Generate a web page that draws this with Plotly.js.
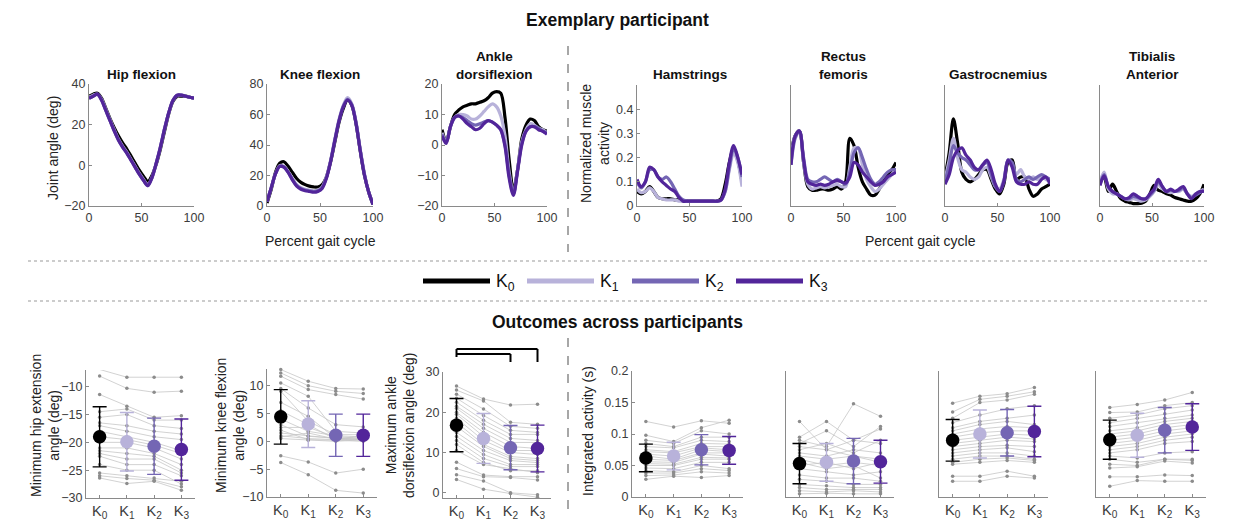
<!DOCTYPE html>
<html><head><meta charset="utf-8">
<script src="https://cdn.plot.ly/plotly-3.0.1.min.js"></script>
<style>html,body{margin:0;padding:0;background:#fff}#chart{width:1233px;height:521px}</style>
</head><body><div id="chart"></div>
<script>
const W = 1233, H = 521;
const conditions = ['K<sub>0</sub>','K<sub>1</sub>','K<sub>2</sub>','K<sub>3</sub>'];
const condColors = ['#000000','#b8b2da','#7466b4','#52259a'];

// percent gait cycle
const gait = [0,4,8,12,16,20,24,28,32,36,40,44,48,52,56,60,64,68,72,76,80,84,88,92,96,100];

// joint angles (deg)
const hipK0 = [34,35,35.5,33,28,23,18.5,14.5,11,8,4.5,1,-2.5,-5.5,-8,-5,0.5,8,17,25.5,31.5,34,34,34,33.5,33];
const hipK1 = [33.5,34.5,35,32.5,27.5,22.5,17.5,13,9.5,6.5,3,-0.5,-4,-7,-9.5,-6,1,9,18,26,32,34.5,34.5,34,33.5,33];
const hipK2 = [33,34,35,32,27,22,17,12.5,9,6,2.5,-1,-4.5,-7.5,-10,-6,1,9,18,26,32,34.5,34.5,34,33.5,33];
const hipK3 = [33,34,35,32,27,22,17,12.5,9,6,2.5,-1,-4.5,-7.5,-10,-6,1,9,18,26,32,34.5,34.5,34,33.5,33];
const kneeK0 = [2,11,22,28,29,26,22,18,15.5,14,13,12.5,12.5,14,19,29,42,55,64,69.5,66,54,36,20,9,1];
const kneeK1 = [3,12,21,26.5,26,22.5,18,14,12,11,10.5,10,10.5,12.5,19,30,44,57,66,71,67,55,37,21,9,1.5];
const kneeK2 = [3,12,21,26,25.5,22,17.5,13.5,11.5,10.5,10,9.5,10,12,18.5,29.5,43,56,65.5,70,66.5,54.5,36.5,20.5,9,1];
const kneeK3 = [3,12,21,26,25.5,22,17,13,11,10,9.5,9,9.5,11.5,18,29,43,56,65,69.5,66,54,36,20,9,1];
const ankleK0 = [5,1,6,10,11.5,12.5,13,13.5,13.5,14,14.5,15.5,17,17.5,17,9,-5,-15,-8,2,6.5,8.5,8,6,5,4.5];
const ankleK1 = [4,1,6,9,10,10,9.5,8.5,8.5,9.5,11,12.5,13.5,12.5,9.5,3,-9,-16,-8,1,5,7,6.5,5.5,5,4];
const ankleK2 = [3.5,1,6,9,9.5,9,8,7,6.5,7,7.5,8,7.5,6.5,5,0,-10,-16,-8,0.5,4.5,6,6,5.5,4.5,4];
const ankleK3 = [3,0.5,6,9,9.5,8.5,7,6,5,5.5,7,8,7.5,6.5,5,-0.5,-11,-16.5,-8.5,0,4.5,6,6,5,4.5,3.5];

// normalized muscle activity
const hamK0 = [0.06,0.05,0.06,0.08,0.06,0.035,0.03,0.03,0.03,0.025,0.025,0.02,0.02,0.02,0.02,0.02,0.02,0.02,0.02,0.02,0.03,0.09,0.18,0.24,0.19,0.10];
const hamK1 = [0.07,0.055,0.06,0.075,0.06,0.035,0.03,0.025,0.025,0.025,0.02,0.02,0.02,0.02,0.02,0.02,0.02,0.02,0.02,0.02,0.025,0.06,0.15,0.22,0.18,0.08];
const hamK2 = [0.10,0.075,0.10,0.15,0.15,0.12,0.11,0.12,0.10,0.07,0.04,0.025,0.02,0.02,0.02,0.02,0.02,0.02,0.02,0.02,0.025,0.06,0.16,0.24,0.20,0.12];
const hamK3 = [0.11,0.08,0.10,0.16,0.15,0.12,0.10,0.085,0.07,0.06,0.035,0.02,0.02,0.02,0.02,0.02,0.02,0.02,0.02,0.02,0.025,0.07,0.18,0.25,0.20,0.13];
const rfK0 = [0.22,0.29,0.31,0.18,0.08,0.065,0.065,0.07,0.07,0.065,0.07,0.08,0.07,0.10,0.28,0.25,0.16,0.10,0.07,0.045,0.045,0.07,0.10,0.13,0.15,0.18];
const rfK1 = [0.20,0.29,0.31,0.18,0.09,0.07,0.075,0.08,0.075,0.08,0.085,0.09,0.08,0.08,0.16,0.24,0.24,0.17,0.11,0.08,0.06,0.07,0.09,0.11,0.13,0.15];
const rfK2 = [0.17,0.28,0.31,0.20,0.11,0.10,0.10,0.11,0.12,0.11,0.10,0.11,0.10,0.09,0.14,0.22,0.24,0.20,0.15,0.11,0.09,0.10,0.12,0.14,0.15,0.15];
const rfK3 = [0.17,0.29,0.31,0.19,0.10,0.09,0.085,0.09,0.085,0.09,0.10,0.105,0.10,0.095,0.12,0.18,0.17,0.14,0.12,0.10,0.085,0.09,0.10,0.12,0.13,0.14];
const gasK0 = [0.12,0.22,0.36,0.26,0.14,0.11,0.10,0.11,0.13,0.15,0.15,0.11,0.07,0.05,0.09,0.18,0.19,0.11,0.12,0.12,0.07,0.04,0.05,0.07,0.08,0.09];
const gasK1 = [0.11,0.19,0.28,0.20,0.15,0.14,0.12,0.11,0.12,0.15,0.16,0.12,0.08,0.07,0.11,0.19,0.17,0.13,0.15,0.12,0.11,0.12,0.11,0.12,0.11,0.10];
const gasK2 = [0.10,0.17,0.25,0.22,0.20,0.19,0.17,0.15,0.15,0.17,0.18,0.13,0.08,0.06,0.10,0.19,0.18,0.11,0.10,0.11,0.12,0.11,0.12,0.13,0.12,0.11];
const gasK3 = [0.09,0.13,0.20,0.23,0.24,0.21,0.19,0.16,0.15,0.17,0.19,0.15,0.09,0.06,0.10,0.19,0.16,0.10,0.09,0.09,0.10,0.09,0.09,0.11,0.12,0.09];
const taK0 = [0.10,0.12,0.06,0.09,0.06,0.03,0.02,0.015,0.01,0.01,0.012,0.02,0.05,0.085,0.065,0.06,0.05,0.045,0.035,0.03,0.025,0.02,0.02,0.03,0.05,0.09];
const taK1 = [0.10,0.14,0.07,0.05,0.05,0.04,0.03,0.025,0.03,0.025,0.02,0.025,0.04,0.06,0.09,0.07,0.06,0.055,0.06,0.06,0.07,0.05,0.04,0.05,0.06,0.07];
const taK2 = [0.09,0.13,0.08,0.06,0.05,0.04,0.03,0.03,0.04,0.035,0.03,0.03,0.045,0.065,0.10,0.08,0.06,0.065,0.06,0.065,0.075,0.05,0.035,0.045,0.055,0.065];
const taK3 = [0.085,0.125,0.08,0.06,0.05,0.04,0.03,0.035,0.05,0.04,0.03,0.03,0.05,0.07,0.11,0.08,0.06,0.07,0.06,0.07,0.08,0.05,0.03,0.05,0.06,0.06];

// outcomes across participants: one row per participant [K0,K1,K2,K3]
const hipExtRows = [
 [-6.9,-8.3,-8.3,-8.3],[-8.1,-10.3,-11.0,-10.8],[-11.4,-13.5,-15.5,-15.2],[-14.5,-14.0,-16.0,-16.0],
 [-15.5,-15.0,-17.0,-17.5],[-16.5,-17.0,-18.0,-18.5],[-17.0,-18.0,-19.0,-19.5],[-18.0,-19.0,-20.0,-21.5],
 [-19.0,-19.5,-20.5,-22.0],[-20.0,-20.0,-21.0,-23.0],[-21.0,-21.0,-22.0,-24.0],[-21.5,-22.0,-22.5,-25.0],
 [-22.0,-23.0,-23.0,-25.5],[-22.5,-24.0,-24.0,-26.0],[-24.0,-25.0,-25.0,-27.5],[-25.5,-26.0,-26.4,-27.0],
 [-26.0,-26.5,-26.8,-28.0],[-26.4,-27.4,-27.0,-28.6]];
const hipExtMean = [-19.0,-19.9,-20.7,-21.3];
const hipExtSD = [5.4,5.25,5.05,5.5];

const kneeFlexRows = [
 [12.9,10.8,9.5,9.4],[12.3,10.0,9.0,8.6],[11.7,9.3,8.4,7.6],[10.5,8.1,1.8,1.5],[9.5,6.0,3.0,2.6],
 [9.0,3.6,1.2,1.2],[7.0,4.5,0.5,0.3],[5.5,3.0,0.3,0.5],[4.0,1.8,1.0,0.8],[3.0,0.9,0.6,0.4],
 [2.5,2.5,0.8,0.6],[2.0,0.3,0.2,0.0],[1.5,1.0,0.5,0.3],[1.0,0.5,0.3,0.2],[0.8,1.5,0.4,1.0],
 [0.5,0.2,0.0,0.3],[-2.6,-3.7,-5.7,-5.0],[-3.8,-6.0,-8.8,-9.3]];
const kneeFlexMean = [4.4,3.1,1.1,1.1];
const kneeFlexSD = [4.9,4.2,3.8,3.8];

const ankleDfRows = [
 [26.5,23.3,21.8,22.0],[25.5,22.8,17.5,17.0],[24.5,20.8,16.5,16.0],[23.5,19.2,15.5,15.0],
 [22.5,18.0,14.5,14.5],[21.5,17.0,13.5,13.0],[21.0,16.0,12.5,12.5],[20.0,15.0,11.5,11.0],
 [19.5,14.0,10.5,10.5],[18.5,13.0,10.0,9.5],[17.5,12.0,9.0,8.5],[16.5,11.5,8.5,8.0],
 [15.0,10.5,8.0,7.5],[14.0,9.5,7.0,7.0],[13.0,8.5,6.5,6.5],[12.0,7.5,5.5,5.5],
 [10.5,7.0,6.0,5.0],[7.6,4.4,4.0,4.0],[6.0,4.0,3.8,3.2],[4.5,2.9,0.0,-0.5],[3.3,0.9,-0.2,-1.1]];
const ankleDfMean = [16.8,13.5,11.2,11.0];
const ankleDfSD = [6.6,6.2,5.5,5.8];

const hamIntRows = [
 [0.120,0.111,0.121,0.117],[0.098,0.088,0.110,0.122],[0.090,0.085,0.105,0.100],[0.085,0.080,0.095,0.095],
 [0.080,0.078,0.090,0.088],[0.075,0.072,0.085,0.084],[0.072,0.070,0.080,0.080],[0.068,0.065,0.078,0.075],
 [0.065,0.060,0.075,0.072],[0.060,0.058,0.070,0.070],[0.056,0.055,0.068,0.065],[0.053,0.052,0.063,0.062],
 [0.050,0.050,0.060,0.060],[0.046,0.045,0.055,0.055],[0.042,0.040,0.050,0.045],[0.038,0.038,0.045,0.042],
 [0.034,0.035,0.040,0.038],[0.028,0.033,0.031,0.034]];
const hamIntMean = [0.062,0.065,0.075,0.074];
const hamIntSD = [0.022,0.022,0.024,0.022];

const rfIntRows = [
 [0.120,0.075,0.065,0.055],[0.095,0.120,0.090,0.085],[0.090,0.080,0.148,0.128],[0.085,0.105,0.080,0.112],
 [0.080,0.075,0.090,0.108],[0.075,0.085,0.070,0.090],[0.070,0.065,0.075,0.070],[0.065,0.060,0.065,0.060],
 [0.060,0.050,0.055,0.050],[0.055,0.045,0.050,0.030],[0.050,0.055,0.045,0.055],[0.045,0.040,0.035,0.040],
 [0.035,0.030,0.030,0.025],[0.028,0.025,0.020,0.020],[0.020,0.018,0.015,0.015],[0.015,0.012,0.012,0.012],
 [0.010,0.008,0.010,0.008],[0.005,0.006,0.005,0.005]];
const rfIntMean = [0.053,0.055,0.057,0.056];
const rfIntSD = [0.032,0.030,0.036,0.034];

const gasIntRows = [
 [0.149,0.160,0.164,0.174],[0.135,0.155,0.160,0.167],[0.125,0.150,0.154,0.163],[0.118,0.130,0.140,0.145],
 [0.110,0.120,0.125,0.130],[0.105,0.115,0.120,0.115],[0.100,0.108,0.112,0.110],[0.095,0.102,0.105,0.105],
 [0.090,0.095,0.100,0.098],[0.085,0.090,0.095,0.092],[0.080,0.085,0.090,0.088],[0.075,0.080,0.082,0.080],
 [0.070,0.075,0.078,0.072],[0.065,0.070,0.070,0.065],[0.060,0.065,0.065,0.060],[0.055,0.060,0.062,0.058],
 [0.052,0.055,0.058,0.055],[0.033,0.033,0.041,0.033],[0.025,0.025,0.033,0.030]];
const gasIntMean = [0.090,0.100,0.102,0.104];
const gasIntSD = [0.033,0.038,0.037,0.040];

const taIntRows = [
 [0.142,0.147,0.154,0.166],[0.134,0.135,0.145,0.150],[0.125,0.130,0.140,0.145],[0.118,0.125,0.132,0.138],
 [0.112,0.118,0.125,0.130],[0.105,0.110,0.120,0.125],[0.100,0.105,0.115,0.120],[0.095,0.100,0.110,0.115],
 [0.090,0.095,0.105,0.110],[0.085,0.090,0.100,0.105],[0.080,0.085,0.095,0.100],[0.075,0.080,0.090,0.095],
 [0.070,0.075,0.085,0.088],[0.065,0.062,0.070,0.072],[0.060,0.055,0.060,0.060],[0.052,0.050,0.060,0.058],
 [0.046,0.048,0.057,0.054],[0.032,0.032,0.035,0.034],[0.017,0.026,0.025,0.025]];
const taIntMean = [0.091,0.098,0.106,0.111];
const taIntSD = [0.031,0.035,0.036,0.037];

// ---------- layout helpers ----------
const FONT = 'Liberation Sans, Arial, sans-serif';
const px = v => v / W;
const py = v => 1 - v / H;
const TICKCOL = '#3c3c3c';
const AXCOL = '#8a8a8a';

const traces = [];
const layout = {
  width: W, height: H, margin: {l:0, r:0, t:0, b:0}, autosize: false,
  paper_bgcolor: '#fff', plot_bgcolor: 'rgba(0,0,0,0)', showlegend: false,
  font: {family: FONT, color: '#222'},
  annotations: [], shapes: []
};

function axisBase(domain, range) {
  return {domain, range, showline: true, linecolor: AXCOL, linewidth: 1, showgrid: false, zeroline: false,
    ticks: 'inside', ticklen: 3, tickcolor: AXCOL, tickfont: {family: FONT, size: 12.5, color: TICKCOL}, fixedrange: true};
}

const topPanels = [
  {title: '<b>Hip flexion</b>', s: [hipK0,hipK1,hipK2,hipK3], xd: [89,194], yd: [84,206], yr: [-20,40], yt: [-20,0,20,40], lab: true},
  {title: '<b>Knee flexion</b>', s: [kneeK0,kneeK1,kneeK2,kneeK3], xd: [267,373], yd: [84,206], yr: [0,80], yt: [0,20,40,60,80], lab: true},
  {title: '<b>Ankle<br>dorsiflexion</b>', s: [ankleK0,ankleK1,ankleK2,ankleK3], xd: [442,547], yd: [84,206], yr: [-20,20], yt: [-20,-10,0,10,20], lab: true},
  {title: '<b>Hamstrings</b>', s: [hamK0,hamK1,hamK2,hamK3], xd: [637,742], yd: [85,206], yr: [0,0.5], yt: [0,0.1,0.2,0.3,0.4], lab: true},
  {title: '<b>Rectus<br>femoris</b>', s: [rfK0,rfK1,rfK2,rfK3], xd: [791,896], yd: [85,206], yr: [0,0.5], yt: [], lab: false},
  {title: '<b>Gastrocnemius</b>', s: [gasK0,gasK1,gasK2,gasK3], xd: [945,1050], yd: [85,206], yr: [0,0.5], yt: [], lab: false},
  {title: '<b>Tibialis<br>Anterior</b>', s: [taK0,taK1,taK2,taK3], xd: [1100,1204], yd: [85,206], yr: [0,0.5], yt: [], lab: false}
];

let n = 0;
topPanels.forEach(p => {
  n++;
  const xn = 'x' + (n === 1 ? '' : n), yn = 'y' + (n === 1 ? '' : n);
  const xa = axisBase([px(p.xd[0]), px(p.xd[1])], [0, 100]);
  xa.tickvals = [0, 50, 100]; xa.anchor = yn;
  const ya = axisBase([py(p.yd[1]), py(p.yd[0])], p.yr);
  ya.anchor = xn;
  if (p.lab) { ya.tickvals = p.yt; } else { ya.showticklabels = false; ya.ticks = ''; }
  layout['xaxis' + (n === 1 ? '' : n)] = xa;
  layout['yaxis' + (n === 1 ? '' : n)] = ya;
  p.s.forEach((vals, k) => {
    traces.push({x: gait, y: vals, xaxis: xn, yaxis: yn, type: 'scatter', mode: 'lines',
      line: {color: condColors[k], width: 3.2, shape: 'spline', smoothing: 0.9}, hoverinfo: 'skip', cliponaxis: true});
  });
  layout.annotations.push({text: p.title, x: px((p.xd[0] + p.xd[1]) / 2), y: py(84), xref: 'paper', yref: 'paper',
    xanchor: 'center', yanchor: 'bottom', showarrow: false, font: {family: FONT, size: 13.5, color: '#111'}});
});

const botPanels = [
  {rows: hipExtRows, m: hipExtMean, sd: hipExtSD, xd: [86,195], yd: [370,498], yr: [-30,-7], yt: [-30,-25,-20,-15,-10], lab: true},
  {rows: kneeFlexRows, m: kneeFlexMean, sd: kneeFlexSD, xd: [267,377], yd: [369,497], yr: [-10,13], yt: [-10,-5,0,5,10], lab: true},
  {rows: ankleDfRows, m: ankleDfMean, sd: ankleDfSD, xd: [443,551], yd: [372,498], yr: [-1.3,30], yt: [0,10,20,30], lab: true},
  {rows: hamIntRows, m: hamIntMean, sd: hamIntSD, xd: [632,743], yd: [371,497], yr: [0,0.2], yt: [0,0.05,0.1,0.15,0.2], lab: true},
  {rows: rfIntRows, m: rfIntMean, sd: rfIntSD, xd: [786,894], yd: [371,497], yr: [0,0.2], yt: [], lab: false},
  {rows: gasIntRows, m: gasIntMean, sd: gasIntSD, xd: [939,1048], yd: [371,497], yr: [0,0.2], yt: [], lab: false},
  {rows: taIntRows, m: taIntMean, sd: taIntSD, xd: [1096,1206], yd: [371,497], yr: [0,0.2], yt: [], lab: false}
];
const catIdx = [0,1,2,3];

botPanels.forEach(p => {
  n++;
  const xn = 'x' + n, yn = 'y' + n;
  const xa = axisBase([px(p.xd[0]), px(p.xd[1])], [-0.5, 3.5]);
  xa.tickvals = catIdx; xa.ticktext = conditions; xa.anchor = yn;
  xa.tickfont = {family: FONT, size: 14.5, color: TICKCOL};
  const ya = axisBase([py(p.yd[1]), py(p.yd[0])], p.yr);
  ya.anchor = xn;
  if (p.lab) { ya.tickvals = p.yt; } else { ya.showticklabels = false; ya.ticks = ''; }
  layout['xaxis' + n] = xa; layout['yaxis' + n] = ya;
  const lx = [], ly = [];
  p.rows.forEach(r => { r.forEach((v, k) => { lx.push(catIdx[k]); ly.push(v); }); lx.push(null); ly.push(null); });
  traces.push({x: lx, y: ly, xaxis: xn, yaxis: yn, type: 'scatter', mode: 'lines+markers',
    line: {color: '#c6c6c6', width: 0.8}, marker: {size: 3.5, color: '#8c8c8c'}, hoverinfo: 'skip', cliponaxis: false});
  p.m.forEach((v, k) => {
    traces.push({x: [catIdx[k]], y: [v], xaxis: xn, yaxis: yn, type: 'scatter', mode: 'markers',
      marker: {size: 13.5, color: condColors[k]}, hoverinfo: 'skip', cliponaxis: false,
      error_y: {type: 'data', array: [p.sd[k]], visible: true, color: condColors[k], thickness: 1.4, width: 7}});
  });
});

// axis titles
const ann = (text, x, y, opt) => layout.annotations.push(Object.assign({text, x: px(x), y: py(y), xref: 'paper', yref: 'paper',
  xanchor: 'center', yanchor: 'middle', showarrow: false, font: {family: FONT, size: 14, color: '#222'}}, opt || {}));
ann('Joint angle (deg)', 53, 148, {textangle: -90});
ann('Percent gait cycle', 320, 241);
ann('Normalized muscle<br>activity', 595, 144, {textangle: -90});
ann('Percent gait cycle', 920, 241);
ann('Minimum hip extension<br>angle (deg)', 45, 425, {textangle: -90});
ann('Minimum knee flexion<br>angle (deg)', 230, 426, {textangle: -90});
ann('Maximum ankle<br>dorsiflexion angle (deg)', 400, 425, {textangle: -90});
ann('Integrated activity (s)', 588, 431, {textangle: -90});
ann('<b>Exemplary participant</b>', 617, 20, {font: {family: FONT, size: 17.5, color: '#111'}});
ann('<b>Outcomes across participants</b>', 617, 322, {font: {family: FONT, size: 17.5, color: '#111'}});

// separators
const sh = layout.shapes;
sh.push({type: 'line', xref: 'paper', yref: 'paper', x0: px(28), x1: px(1207), y0: py(261), y1: py(261), line: {color: '#9a9a9a', width: 1.2, dash: 'dot'}});
sh.push({type: 'line', xref: 'paper', yref: 'paper', x0: px(28), x1: px(1207), y0: py(301), y1: py(301), line: {color: '#9a9a9a', width: 1.2, dash: 'dot'}});
sh.push({type: 'line', xref: 'paper', yref: 'paper', x0: px(568), x1: px(568), y0: py(46), y1: py(252), line: {color: '#8a8a8a', width: 1.5, dash: 'dash'}});
sh.push({type: 'line', xref: 'paper', yref: 'paper', x0: px(568), x1: px(568), y0: py(338), y1: py(516), line: {color: '#8a8a8a', width: 1.5, dash: 'dash'}});

// legend
const legX = [[423,490],[527,594],[632,699],[736,803]];
legX.forEach((s, k) => {
  sh.push({type: 'line', xref: 'paper', yref: 'paper', x0: px(s[0]), x1: px(s[1]), y0: py(281), y1: py(281), line: {color: condColors[k], width: 5}});
  layout.annotations.push({text: conditions[k], x: px(s[1] + 4), y: py(282), xref: 'paper', yref: 'paper', xanchor: 'left', yanchor: 'middle',
    showarrow: false, font: {family: FONT, size: 17.5, color: '#111'}});
});

// significance bracket on ankle outcome panel (axis 10)
const bx = 'x10';
const bl = (x0, y0, x1, y1) => sh.push({type: 'line', xref: bx, yref: 'paper', x0, x1, y0: py(y0), y1: py(y1), line: {color: '#000', width: 2}});
bl(0, 349, 0, 357);
bl(0, 349, 3, 349);
bl(3, 349, 3, 362);
bl(0, 354, 2, 354);
bl(2, 354, 2, 362);

Plotly.newPlot('chart', traces, layout, {staticPlot: true, displayModeBar: false});
</script></body></html>
